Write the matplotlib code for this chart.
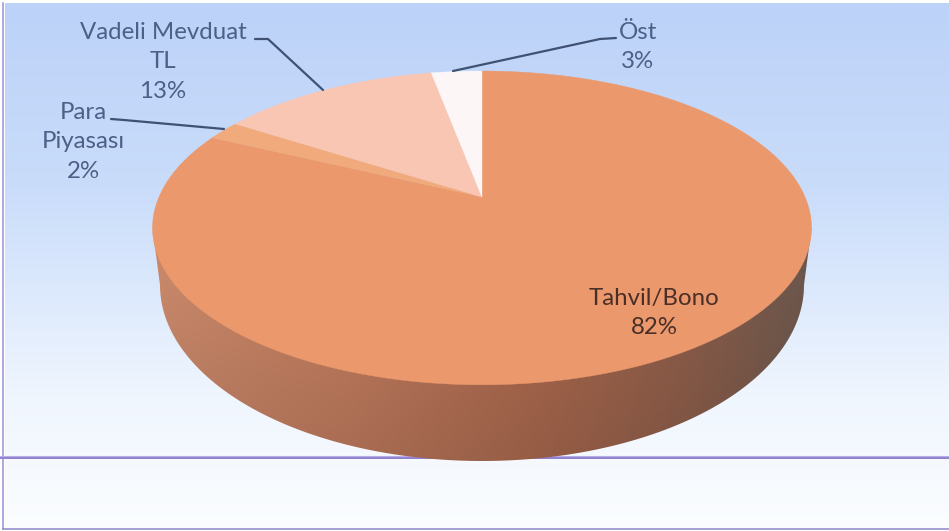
import numpy as np
import matplotlib
matplotlib.use("Agg")
import matplotlib.pyplot as plt
from matplotlib.patches import Polygon
from matplotlib.colors import LinearSegmentedColormap

categories = ["Tahvil/Bono", "Para\nPiyasası", "Vadeli Mevduat\nTL", "Öst"]
shares = [82, 2, 13, 3]
slice_colors = ["#ea986c", "#f1aa7c", "#f9c6b4", "#fdf6f6"]

W, H = 949, 531
fig = plt.figure(figsize=(W / 100, H / 100), dpi=100)
ax = fig.add_axes([0, 0, 1, 1])
ax.set_xlim(0, W)
ax.set_ylim(H, 0)
ax.axis("off")
fig.patch.set_facecolor("white")

# background gradient
bg = LinearSegmentedColormap.from_list(
    "bg", [(0, "#bcd2f8"), (0.35, "#c9dcfa"), (0.75, "#f0f6fe"), (1, "#fbfdff")])
ax.imshow(np.linspace(0, 1, 256)[:, None], cmap=bg, extent=[5, W, 529, 3],
          aspect="auto", zorder=0)

# frame and rules (behind the pie)
ax.plot([3, 3], [3, 529], color="#9a8fd8", lw=1.1, zorder=0.5)
ax.plot([3, W], [529, 529], color="#8f86c8", lw=1.1, zorder=0.5)
ax.plot([0, W], [458, 458], color="#8f7fd0", lw=1.4, zorder=0.5)
ax.plot([0, W], [456, 456], color="#b9aee6", lw=0.8, zorder=0.5)

# perspective mapping of the pie disc
CX, CY, A, B, K = 482, 197, 323, 150.8, 0.197
def project(theta):
    s, c = np.sin(theta), np.cos(theta)
    w = 1 + K * s
    return CX + A * c / w, CY - B * s / w

def wedge_points(start, end):
    t = np.radians(90 - np.linspace(start, end, max(int(end - start) * 2, 4)))
    x, y = project(t)
    return np.column_stack([np.r_[CX, x], np.r_[CY, y]])

# side wall: lower rim joined to the widest part of the disc
tt = np.linspace(0, np.pi, 360)
lx = 482 + 322 * np.cos(tt)
ly = 285 + 176 * np.sin(tt)
order = np.argsort(lx)
side_poly = np.column_stack([
    np.r_[152.5, lx[order], 811.5],
    np.r_[228, ly[order], 228]])
side_cm = LinearSegmentedColormap.from_list(
    "side", [(0, "#d08d6e"), (0.3, "#c47e60"), (0.6, "#ad6a4f"),
             (0.82, "#90604c"), (1, "#6f5a50")])
rgb = side_cm(np.linspace(0, 1, 256))[:, :3]
shade = np.linspace(1.0, 0.86, 128)[:, None, None]
side_img = rgb[None, :, :] * shade
im = ax.imshow(side_img, extent=[152, 812, 462, 200], aspect="auto", zorder=1)
clip = Polygon(side_poly, closed=True, transform=ax.transData, fc="none", ec="none")
ax.add_patch(clip)
im.set_clip_path(clip)

# top slices
start = 0
for share, colour in zip(shares, slice_colors):
    end = start + share * 3.6
    ax.add_patch(Polygon(wedge_points(start, end), closed=True, fc=colour,
                         ec=colour, lw=0.3, zorder=2))
    start = end

# labels
txt = "#4c6088"
font = "Lato"
fs = 17.3
ls = 1.52
ax.text(654, 313, "Tahvil/Bono\n82%", color="#4a2f28", ha="center", va="center",
        fontsize=fs, family=font, linespacing=ls, zorder=4)
ax.text(163, 62, "Vadeli Mevduat\nTL\n13%", color=txt, ha="center", va="center",
        fontsize=fs, family=font, linespacing=ls, zorder=4)
ax.text(83, 142, "Para\nPiyasası\n2%", color=txt, ha="center", va="center",
        fontsize=fs, family=font, linespacing=ls, zorder=4)
ax.text(638, 47, "Öst\n3%", color=txt, ha="center", va="center",
        fontsize=fs, family=font, linespacing=ls, zorder=4)

# leader lines
line = dict(color="#3f5273", lw=1.6, zorder=3, solid_capstyle="round")
ax.plot([255, 268, 323], [39, 39, 90], **line)
ax.plot([111, 124, 224], [119, 120, 129], **line)
ax.plot([453, 600, 616], [71, 39, 38], **line)

ax.set_xlim(0, W)
ax.set_ylim(H, 0)
fig.savefig("out.png", dpi=100)
